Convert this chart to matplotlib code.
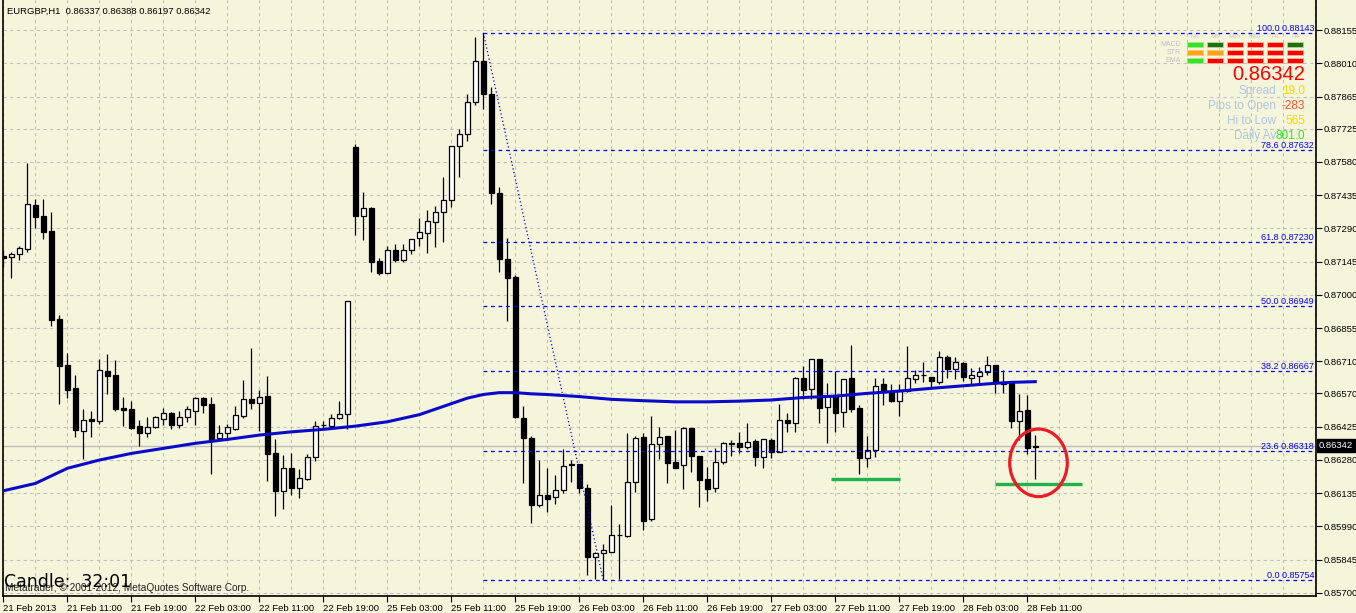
import numpy as np
import matplotlib.pyplot as plt
from matplotlib.patches import Ellipse, Rectangle
import matplotlib.transforms as mtransforms
from matplotlib.ticker import MultipleLocator

plt.rcParams['font.family'] = ['Liberation Sans', 'DejaVu Sans']

# EURGBP H1 candles, bar 0 = 21 Feb 2013 03:00
opens = [0.87168, 0.87163, 0.87176, 0.87201, 0.87390, 0.87343, 0.87278, 0.86894, 0.86693, 0.86593,
         0.86407, 0.86459, 0.86450, 0.86667, 0.86650, 0.86504, 0.86501, 0.86427, 0.86395, 0.86422,
         0.86459, 0.86483, 0.86432, 0.86465, 0.86494, 0.86548, 0.86523, 0.86374, 0.86395, 0.86416,
         0.86471, 0.86544, 0.86526, 0.86558, 0.86309, 0.86145, 0.86243, 0.86158, 0.86196, 0.86291,
         0.86430, 0.86429, 0.86461, 0.86478, 0.87645, 0.87342, 0.87378, 0.87147, 0.87096, 0.87195,
         0.87152, 0.87195, 0.87246, 0.87271, 0.87318, 0.87361, 0.87412, 0.87647, 0.87703, 0.87839,
         0.88018, 0.87878, 0.87446, 0.87158, 0.87077, 0.86464, 0.86377, 0.86085, 0.86128, 0.86120,
         0.86149, 0.86258, 0.86260, 0.86158, 0.85854, 0.85875, 0.85879, 0.85952, 0.85949, 0.86184,
         0.86378, 0.86020, 0.86347, 0.86382, 0.86269, 0.86256, 0.86417, 0.86295, 0.86196, 0.86155,
         0.86269, 0.86350, 0.86352, 0.86337, 0.86360, 0.86293, 0.86365, 0.86315, 0.86453, 0.86442,
         0.86635, 0.86587, 0.86718, 0.86509, 0.86562, 0.86490, 0.86635, 0.86504, 0.86289, 0.86321,
         0.86611, 0.86577, 0.86538, 0.86580, 0.86631, 0.86648, 0.86640, 0.86621, 0.86727, 0.86675,
         0.86703, 0.86635, 0.86647, 0.86662, 0.86693, 0.86621, 0.86614, 0.86450, 0.86497, 0.86337]
highs = [0.87195, 0.87188, 0.87213, 0.87573, 0.87416, 0.87416, 0.87361, 0.86912, 0.86746, 0.86650,
         0.86501, 0.86493, 0.86720, 0.86741, 0.86715, 0.86554, 0.86538, 0.86453, 0.86468, 0.86471,
         0.86504, 0.86488, 0.86494, 0.86516, 0.86555, 0.86555, 0.86555, 0.86432, 0.86436, 0.86515,
         0.86628, 0.86766, 0.86584, 0.86645, 0.86371, 0.86301, 0.86309, 0.86238, 0.86305, 0.86449,
         0.86449, 0.86478, 0.86535, 0.86975, 0.87658, 0.87448, 0.87383, 0.87160, 0.87213, 0.87221,
         0.87221, 0.87245, 0.87337, 0.87370, 0.87389, 0.87514, 0.87650, 0.87723, 0.87878, 0.88124,
         0.88143, 0.87905, 0.87469, 0.87248, 0.87085, 0.86517, 0.86382, 0.86279, 0.86244, 0.86216,
         0.86327, 0.86279, 0.86264, 0.86176, 0.85878, 0.85914, 0.86084, 0.86001, 0.86398, 0.86384,
         0.86397, 0.86471, 0.86422, 0.86384, 0.86410, 0.86422, 0.86419, 0.86297, 0.86247, 0.86330,
         0.86356, 0.86366, 0.86402, 0.86439, 0.86371, 0.86371, 0.86374, 0.86523, 0.86483, 0.86642,
         0.86689, 0.86720, 0.86720, 0.86614, 0.86667, 0.86633, 0.86781, 0.86519, 0.86384, 0.86638,
         0.86638, 0.86609, 0.86611, 0.86776, 0.86672, 0.86708, 0.86642, 0.86756, 0.86737, 0.86727,
         0.86705, 0.86679, 0.86683, 0.86733, 0.86695, 0.86672, 0.86616, 0.86567, 0.86562, 0.86388]
lows = [0.87121, 0.87074, 0.87152, 0.87188, 0.87290, 0.87243, 0.86865, 0.86523, 0.86548, 0.86381,
        0.86283, 0.86378, 0.86436, 0.86567, 0.86494, 0.86427, 0.86414, 0.86341, 0.86381, 0.86417,
        0.86432, 0.86413, 0.86420, 0.86446, 0.86432, 0.86483, 0.86218, 0.86371, 0.86371, 0.86410,
        0.86464, 0.86503, 0.86405, 0.86187, 0.86035, 0.86065, 0.86126, 0.86114, 0.86192, 0.86275,
        0.86417, 0.86420, 0.86457, 0.86416, 0.87263, 0.87239, 0.87101, 0.87088, 0.87093, 0.87144,
        0.87144, 0.87176, 0.87213, 0.87183, 0.87210, 0.87231, 0.87385, 0.87516, 0.87672, 0.87830,
        0.87812, 0.87398, 0.87101, 0.86885, 0.86461, 0.86179, 0.86004, 0.86073, 0.86054, 0.86089,
        0.86136, 0.86184, 0.86136, 0.85779, 0.85760, 0.85754, 0.85876, 0.85758, 0.85945, 0.86141,
        0.85974, 0.86014, 0.86283, 0.86180, 0.86243, 0.86154, 0.86228, 0.86075, 0.86100, 0.86139,
        0.86260, 0.86298, 0.86311, 0.86327, 0.86254, 0.86245, 0.86289, 0.86313, 0.86402, 0.86402,
        0.86544, 0.86544, 0.86442, 0.86352, 0.86402, 0.86422, 0.86490, 0.86217, 0.86250, 0.86293,
        0.86519, 0.86531, 0.86471, 0.86578, 0.86614, 0.86621, 0.86592, 0.86611, 0.86635, 0.86632,
        0.86625, 0.86611, 0.86611, 0.86650, 0.86573, 0.86570, 0.86420, 0.86366, 0.86305, 0.86197]
closes = [0.87162, 0.87176, 0.87203, 0.87395, 0.87340, 0.87275, 0.86890, 0.86690, 0.86586, 0.86410,
          0.86453, 0.86450, 0.86670, 0.86647, 0.86501, 0.86498, 0.86418, 0.86398, 0.86422, 0.86465,
          0.86483, 0.86432, 0.86465, 0.86501, 0.86548, 0.86519, 0.86366, 0.86395, 0.86422, 0.86474,
          0.86544, 0.86526, 0.86555, 0.86306, 0.86145, 0.86243, 0.86158, 0.86199, 0.86291, 0.86429,
          0.86431, 0.86461, 0.86478, 0.86975, 0.87345, 0.87377, 0.87141, 0.87096, 0.87195, 0.87152,
          0.87195, 0.87245, 0.87272, 0.87322, 0.87359, 0.87412, 0.87647, 0.87703, 0.87839, 0.88018,
          0.87878, 0.87445, 0.87158, 0.87075, 0.86469, 0.86377, 0.86084, 0.86128, 0.86111, 0.86149,
          0.86255, 0.86260, 0.86157, 0.85854, 0.85875, 0.85887, 0.85954, 0.85954, 0.86184, 0.86374,
          0.86014, 0.86347, 0.86381, 0.86267, 0.86245, 0.86417, 0.86298, 0.86193, 0.86154, 0.86269,
          0.86352, 0.86352, 0.86337, 0.86356, 0.86293, 0.86369, 0.86315, 0.86452, 0.86442, 0.86635,
          0.86584, 0.86718, 0.86507, 0.86559, 0.86485, 0.86631, 0.86501, 0.86289, 0.86321, 0.86602,
          0.86577, 0.86538, 0.86580, 0.86635, 0.86648, 0.86650, 0.86625, 0.86727, 0.86675, 0.86705,
          0.86640, 0.86650, 0.86662, 0.86693, 0.86616, 0.86611, 0.86450, 0.86493, 0.86333, 0.86342]

# moving average, read at a subset of bars
ma_bars = [0, 4, 8, 12, 16, 20, 24, 28, 32, 36, 40, 44, 48, 52, 56, 58, 60, 62, 64, 66, 68, 72,
           76, 80, 84, 88, 92, 96, 100, 104, 108, 112, 116, 120, 124, 126, 129]
ma_vals = [0.86145, 0.86177, 0.86243, 0.86279, 0.86308, 0.86330, 0.86352, 0.86369, 0.86388, 0.86402,
           0.86413, 0.86427, 0.86446, 0.86477, 0.86525, 0.86549, 0.86565, 0.86573, 0.86573, 0.86568,
           0.86565, 0.86556, 0.86544, 0.86538, 0.86533, 0.86533, 0.86536, 0.86541, 0.86552, 0.86558,
           0.86570, 0.86580, 0.86592, 0.86603, 0.86614, 0.86618, 0.86621]

fib_levels = [100.0, 78.6, 61.8, 50.0, 38.2, 23.6, 0.0]
fib_prices = [0.88143, 0.87632, 0.87230, 0.86949, 0.86667, 0.86318, 0.85754]
fib_start, fib_end = 60, 75

y_ticks = [0.88155, 0.88010, 0.87865, 0.87725, 0.87580, 0.87435, 0.87290, 0.87145, 0.87000,
           0.86855, 0.86710, 0.86570, 0.86425, 0.86280, 0.86135, 0.85990, 0.85845, 0.85700]
x_labels = ["21 Feb 2013", "21 Feb 11:00", "21 Feb 19:00", "22 Feb 03:00", "22 Feb 11:00",
            "22 Feb 19:00", "25 Feb 03:00", "25 Feb 11:00", "25 Feb 19:00", "26 Feb 03:00",
            "26 Feb 11:00", "26 Feb 19:00", "27 Feb 03:00", "27 Feb 11:00", "27 Feb 19:00",
            "28 Feb 03:00", "28 Feb 11:00"]

support_lines = [(103.5, 112.1, 0.86195), (124.0, 134.9, 0.86173)]
last_price = 0.86342

# indicator panel
panel_rows = ["MACD", "STR", "EMA"]
panel_cols = ["M1", "M5", "M15", "M30", "H1", "H4"]
panel_colors = [["#22ee22", "#117711", "#ff0000", "#ff0000", "#ff0000", "#117711"],
                ["#ffa500", "#ffa500", "#ff0000", "#ff0000", "#ff0000", "#ff0000"],
                ["#22ee22", "#ff0000", "#ff0000", "#ff0000", "#ff0000", "#ff0000"]]
info_labels = ["Spread", "Pips to Open", "Hi to Low", "Daily Av"]
info_values = ["19.0", "-283", "565", "801.0"]
info_colors = ["#ffd700", "#ff5030", "#ffd700", "#22ee22"]

W, H = 1356, 613
bg = "#f5f5dc"
fig = plt.figure(figsize=(W / 100, H / 100), dpi=100, facecolor=bg)
ax = fig.add_axes([3 / W, 17 / H, 1313 / W, 596 / H])
ax.set_facecolor(bg)

x = np.arange(len(opens))
o = np.array(opens); c = np.array(closes)
ax.vlines(x, lows, highs, color="black", lw=0.9, zorder=3)
body_col = ["black" if cc < oo else "white" for oo, cc in zip(o, c)]
ax.bar(x, np.abs(c - o), bottom=np.minimum(o, c), width=0.6, color=body_col,
       edgecolor="black", linewidth=0.9, zorder=4)

ax.axhline(last_price, color="#bdbdbd", lw=1, zorder=2)

xmax = 164.09
for lvl, p in zip(fib_levels, fib_prices):
    ax.hlines(p, fib_start, xmax, colors="#0000ff", linestyles=(0, (3, 3)), lw=0.9, zorder=5)
    ax.text(0.9985, p, f"{lvl:.1f} {p:.5f}", transform=ax.get_yaxis_transform(),
            ha="right", va="bottom", fontsize=6.5, color="#0000ff", zorder=6)
ax.plot([fib_start, fib_end], [fib_prices[0], fib_prices[-1]], color="#0000ff", ls=(0, (1, 2)),
        lw=0.9, zorder=5)

ax.plot(ma_bars, ma_vals, color="#0a0ac8", lw=2.2, zorder=6)

for x0, x1, p in support_lines:
    ax.hlines(p, x0, x1, colors="#22b14c", lw=2.4, zorder=7)
ax.add_patch(Ellipse((129.4, 0.86267), 7.2, 0.00295, fill=False, edgecolor="#ed1c24", lw=2.3,
                     zorder=8))

ax.set_xlim(-0.04, xmax)
ax.set_ylim(0.85686, 0.88286)

ax.yaxis.tick_right()
ax.set_yticks(y_ticks)
ax.set_yticklabels([f"{v:.5f}" for v in y_ticks], fontsize=6.8)
ax.set_xticks(np.arange(0, 129, 8))
ax.set_xticklabels(x_labels, fontsize=6.8, ha="left")
off = mtransforms.ScaledTranslation(3 / 100, 0, fig.dpi_scale_trans)
for lab in ax.get_xticklabels():
    lab.set_transform(lab.get_transform() + off)
ax.xaxis.set_minor_locator(MultipleLocator(4))
ax.tick_params(axis="both", which="major", length=4, width=0.8, pad=1.5)
ax.tick_params(axis="x", which="minor", length=0)
ax.grid(True, which="both", axis="x", color="#c0c0c0", ls=(0, (3, 3)), lw=0.8)
ax.grid(True, which="major", axis="y", color="#c0c0c0", ls=(0, (3, 3)), lw=0.8)
ax.set_axisbelow(True)
for s in ["left", "right", "bottom"]:
    ax.spines[s].set_color("black")
    ax.spines[s].set_linewidth(1.2)
ax.spines["top"].set_visible(False)

ax.text(1.002, last_price, "0.86342", transform=ax.get_yaxis_transform(), ha="left", va="center",
        fontsize=6.8, color="white", zorder=10, clip_on=False,
        bbox=dict(boxstyle="square,pad=0.2", fc="black", ec="black"))


def fx(px):
    return px / W


def fy(py):
    return 1 - py / H


fig.text(fx(7), fy(11), "EURGBP,H1  0.86337 0.86388 0.86197 0.86342", fontsize=6.8,
         va="center", color="black")
fig.text(fx(5), fy(588), "Metatrader, © 2001-2012, MetaQuotes Software Corp.", fontsize=7.3,
         va="center", color="#222222")
fig.text(fx(4), fy(582), "Candle:  32:01", fontsize=12.5, va="center", color="black",
         family="DejaVu Sans")

# indicator panel
for j, name in enumerate(panel_cols):
    fig.text(fx(1195 + 20 * j), fy(36), name, fontsize=4.5, color="#c8c8c8", ha="center",
             va="center")
for i, name in enumerate(panel_rows):
    yc = 44 + 8 * i
    fig.text(fx(1181), fy(yc), name, fontsize=5, color="#c0c0c0", ha="right", va="center")
    for j, col in enumerate(panel_colors[i]):
        fig.patches.append(Rectangle((fx(1187 + 20 * j), fy(yc + 2.5)), 16 / W, 5 / H,
                                     transform=fig.transFigure, facecolor=col,
                                     edgecolor="#f0c0a0", lw=0.5))
fig.text(fx(1305), fy(75), "0.86342", fontsize=14.5, color="#ff0000", ha="right", va="center")
for i, (lab, val, col) in enumerate(zip(info_labels, info_values, info_colors)):
    yc = 91 + 15 * i
    fig.text(fx(1276), fy(yc), lab, fontsize=8.5, color="#b0c4de", ha="right", va="center")
    fig.text(fx(1305), fy(yc), val, fontsize=8.5, color=col, ha="right", va="center")

fig.savefig("out.png", dpi=100, facecolor=bg)
